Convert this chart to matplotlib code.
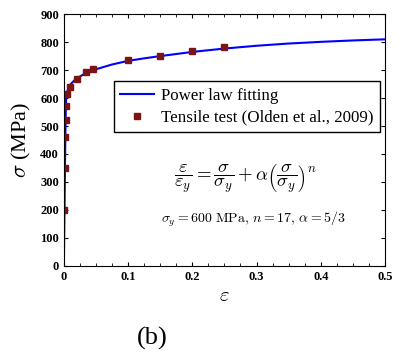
import numpy as np
import matplotlib.pyplot as plt
from matplotlib.ticker import MultipleLocator

plt.rcParams['font.family'] = ['Liberation Serif', 'DejaVu Serif']
plt.rcParams['mathtext.fontset'] = 'cm'

# tensile test points
test_strain = [0.001, 0.0017, 0.0023, 0.0027, 0.0035, 0.0055, 0.009,
               0.020, 0.035, 0.045, 0.10, 0.15, 0.20, 0.25]
test_stress = [200, 350, 460, 520, 570, 615, 640,
               668, 694, 704, 736, 752, 770, 781]

# power law fitting curve
fit_strain = [0.0, 0.0010, 0.0020, 0.0030, 0.0035, 0.0045, 0.006, 0.008, 0.010,
              0.015, 0.020, 0.030, 0.040, 0.050, 0.075, 0.10, 0.125, 0.15,
              0.20, 0.25, 0.30, 0.35, 0.40, 0.45, 0.50]
fit_stress = [0, 200, 400, 560, 595, 615, 628, 640, 648,
              660, 670, 684, 695, 703, 720, 733, 742, 750,
              765, 777, 787, 795, 801, 806, 810]

fig = plt.figure(figsize=(3.99, 3.54), dpi=100)
ax = fig.add_axes([0.160, 0.249, 0.805, 0.711])

ax.plot(fit_strain, fit_stress, color='#0000ff', lw=1.5, label='Power law fitting')
ax.plot(test_strain, test_stress, ls='none', marker='s', ms=5, color='#7b1414',
        label='Tensile test (Olden et al., 2009)')

ax.set_xlim(0, 0.5)
ax.set_ylim(0, 900)
ax.xaxis.set_minor_locator(MultipleLocator(0.025))
ax.yaxis.set_major_locator(MultipleLocator(100))
ax.set_xticks([0, 0.1, 0.2, 0.3, 0.4, 0.5])
ax.set_xticklabels(['0', '0.1', '0.2', '0.3', '0.4', '0.5'])
ax.tick_params(which='both', direction='in', top=True, right=True, labelsize=9)
ax.tick_params(which='major', length=3)
ax.tick_params(which='minor', length=2)
for lab in ax.get_xticklabels() + ax.get_yticklabels():
    lab.set_fontweight('bold')
for sp in ax.spines.values():
    sp.set_linewidth(0.8)

ax.set_xlabel(r'$\varepsilon$', fontsize=15, labelpad=3)
ax.set_ylabel(r'$\sigma$ (MPa)', fontsize=16, labelpad=5)

ax.legend(loc='upper left', bbox_to_anchor=(0.155, 0.735), fontsize=12.2,
          frameon=True, fancybox=False, edgecolor='black', framealpha=1,
          handlelength=2.0, handletextpad=0.4, borderpad=0.4, labelspacing=0.35,
          borderaxespad=0)

ax.text(0.565, 0.345,
        r'$\dfrac{\varepsilon}{\varepsilon_y} = \dfrac{\sigma}{\sigma_y} + \alpha\left(\dfrac{\sigma}{\sigma_y}\right)^n$',
        transform=ax.transAxes, ha='center', va='center', fontsize=13.5)
ax.text(0.589, 0.185, r'$\sigma_y = 600\ \mathrm{MPa},\, n = 17,\, \alpha = 5/3$',
        transform=ax.transAxes, ha='center', va='center', fontsize=10)

fig.text(0.381, 0.045, '(b)', ha='center', va='center', fontsize=19)

fig.savefig('out.png', dpi=100)
